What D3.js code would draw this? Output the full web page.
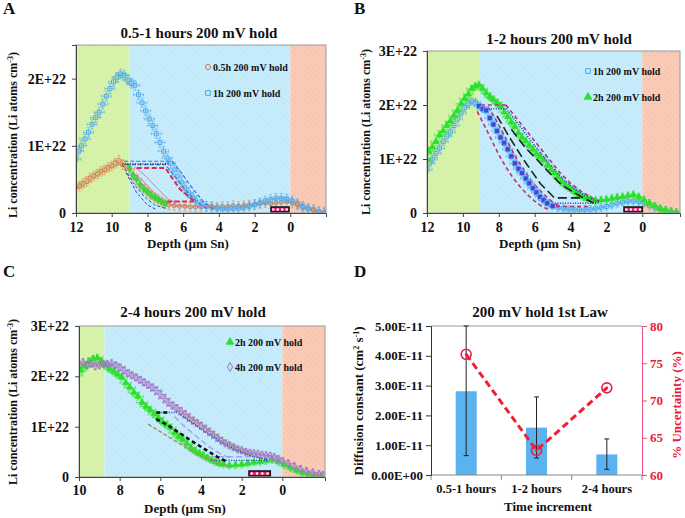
<!DOCTYPE html>
<html><head><meta charset="utf-8">
<script src="https://cdn.jsdelivr.net/npm/d3@7"></script>
<style>
body{margin:0;background:#fff;}
svg text{font-family:"Liberation Serif","Times New Roman",serif;font-weight:bold;fill:#111;}
</style></head><body>
<svg id="c" width="685" height="518"></svg>
<script>
// ---------------- DATA (depth in µm Sn, concentration in 1E+22 Li atoms cm^-3) ----------------
const halfHour = [[12.0,0.38],[11.8,0.40],[11.6,0.44],[11.4,0.47],[11.2,0.52],[11.0,0.55],[10.8,0.58],[10.6,0.62],[10.4,0.64],[10.2,0.68],[10.0,0.70],[9.8,0.74],[9.6,0.78],[9.4,0.72],[9.2,0.70],[9.0,0.66],[8.8,0.56],[8.6,0.50],[8.4,0.42],[8.2,0.36],[8.0,0.32],[7.8,0.27],[7.6,0.23],[7.4,0.20],[7.2,0.17],[7.0,0.14],[6.8,0.12],[6.5,0.11],[6.2,0.10],[5.9,0.10],[5.6,0.09],[5.3,0.09],[5.0,0.09],[4.7,0.10],[4.4,0.10],[4.1,0.09],[3.8,0.10],[3.5,0.10],[3.2,0.11],[2.9,0.10],[2.6,0.11],[2.3,0.12],[2.0,0.13],[1.7,0.14],[1.4,0.15],[1.1,0.14],[0.8,0.15],[0.5,0.16],[0.2,0.17],[-0.1,0.15],[-0.4,0.12],[-0.7,0.08],[-1.0,0.06],[-1.3,0.04],[-1.6,0.02],[-1.9,0.01]];
const oneHour = [[12.0,0.80],[11.85,0.92],[11.7,1.0],[11.5,1.1],[11.3,1.2],[11.1,1.32],[10.9,1.42],[10.7,1.5],[10.5,1.62],[10.3,1.74],[10.1,1.85],[9.9,1.95],[9.7,2.02],[9.5,2.07],[9.3,2.05],[9.1,1.98],[8.9,1.93],[8.7,1.9],[8.5,1.76],[8.3,1.64],[8.1,1.52],[7.9,1.40],[7.7,1.30],[7.5,1.18],[7.3,1.05],[7.1,0.92],[6.9,0.82],[6.7,0.74],[6.5,0.64],[6.3,0.55],[6.1,0.46],[5.9,0.38],[5.7,0.30],[5.5,0.24],[5.3,0.18],[5.0,0.13],[4.7,0.10],[4.4,0.08],[4.1,0.07],[3.8,0.06],[3.5,0.06],[3.2,0.06],[2.9,0.07],[2.6,0.08],[2.3,0.10],[2.0,0.12],[1.7,0.15],[1.4,0.18],[1.1,0.20],[0.8,0.22],[0.5,0.22],[0.2,0.21],[-0.1,0.18],[-0.4,0.14],[-0.7,0.10],[-1.0,0.07],[-1.3,0.05],[-1.6,0.02],[-1.9,0.0]];
const twoHour = [[12.0,1.0],[11.9,1.14],[11.7,1.22],[11.5,1.32],[11.3,1.44],[11.1,1.52],[10.9,1.62],[10.7,1.70],[10.5,1.80],[10.3,1.90],[10.1,2.02],[9.9,2.12],[9.7,2.20],[9.5,2.30],[9.3,2.35],[9.1,2.37],[8.9,2.30],[8.7,2.22],[8.5,2.15],[8.3,2.10],[8.1,2.04],[7.9,1.98],[7.7,1.87],[7.5,1.78],[7.3,1.68],[7.1,1.60],[6.9,1.48],[6.7,1.40],[6.5,1.33],[6.3,1.25],[6.1,1.18],[5.9,1.10],[5.7,1.04],[5.5,0.98],[5.3,0.88],[5.1,0.80],[4.9,0.74],[4.7,0.66],[4.5,0.58],[4.3,0.52],[4.1,0.47],[3.9,0.43],[3.7,0.38],[3.5,0.34],[3.3,0.30],[3.1,0.27],[2.9,0.25],[2.6,0.23],[2.3,0.24],[2.0,0.25],[1.7,0.27],[1.4,0.29],[1.1,0.30],[0.8,0.32],[0.5,0.34],[0.2,0.30],[-0.1,0.24],[-0.4,0.18],[-0.7,0.13],[-1.0,0.08],[-1.3,0.05],[-1.6,0.03],[-1.9,0.01]];
const fourHour = [[10.0,2.25],[9.8,2.28],[9.6,2.22],[9.4,2.25],[9.2,2.20],[9.0,2.22],[8.8,2.25],[8.6,2.24],[8.4,2.26],[8.2,2.22],[8.0,2.18],[7.8,2.12],[7.6,2.06],[7.4,2.02],[7.2,1.98],[7.0,1.93],[6.8,1.88],[6.6,1.83],[6.4,1.78],[6.2,1.72],[6.0,1.64],[5.8,1.56],[5.6,1.48],[5.4,1.42],[5.2,1.37],[5.0,1.31],[4.8,1.25],[4.6,1.18],[4.4,1.12],[4.2,1.07],[4.0,1.02],[3.8,0.96],[3.6,0.90],[3.4,0.84],[3.2,0.78],[3.0,0.72],[2.8,0.67],[2.6,0.63],[2.4,0.59],[2.2,0.55],[2.0,0.53],[1.8,0.50],[1.6,0.48],[1.4,0.47],[1.2,0.46],[1.0,0.44],[0.8,0.43],[0.6,0.42],[0.4,0.40],[0.2,0.36],[0.0,0.32],[-0.3,0.27],[-0.6,0.21],[-0.9,0.16],[-1.2,0.12],[-1.5,0.09],[-1.8,0.06],[-2.0,0.04]];
const errDepth = 0.28, errConc = 0.07;

// fit lines, panel A
const fitA = {
  blueDash1: [[9.3,0.77],[6.6,0.77],[6.0,0.56],[5.4,0.34],[4.8,0.15],[4.3,0.06]],
  blueDash2: [[9.2,0.72],[7.0,0.72],[6.4,0.52],[5.8,0.32],[5.2,0.16],[4.7,0.07]],
  blackDot: [[9.4,0.73],[6.8,0.73]],
  redDash1: [[8.6,0.67],[7.0,0.67],[6.2,0.36],[5.4,0.18]],
  redDash2: [[6.9,0.17],[5.4,0.17]],
  pink1: [[9.0,0.62],[8.4,0.52],[7.8,0.35],[7.2,0.20],[6.6,0.12],[4.5,0.10]],
  pink2: [[8.7,0.68],[8.1,0.55],[7.5,0.38],[6.9,0.22],[6.4,0.14]],
  navy1: [[9.4,0.72],[8.8,0.45],[8.2,0.25],[7.6,0.12],[7.0,0.07]],
  navy2: [[9.2,0.60],[8.6,0.30],[8.0,0.12],[7.5,0.05]]
};
// fit lines, panel B
const fitB = {
  magTop: [[9.0,2.0],[7.6,2.0]],
  magGreen: [[7.6,2.0],[7.0,1.75],[6.4,1.5],[5.8,1.25],[5.2,1.0],[4.6,0.75],[4.0,0.55],[3.4,0.40],[2.8,0.28],[2.4,0.22]],
  magBlueOuter: [[9.2,1.88],[8.8,1.62],[8.4,1.35],[8.0,1.08],[7.6,0.85],[7.2,0.65],[6.8,0.48],[6.4,0.34],[6.0,0.22],[5.6,0.12],[5.2,0.06]],
  magBlueInner: [[8.6,1.97],[8.2,1.75],[7.8,1.5],[7.4,1.25],[7.0,1.0],[6.6,0.8],[6.2,0.6],[5.8,0.45],[5.4,0.32],[5.0,0.2],[4.6,0.12]],
  magBottom: [[5.2,0.12],[3.0,0.12]],
  black1: [[8.1,1.8],[7.4,1.4],[6.6,0.98],[5.7,0.55],[4.9,0.28],[3.4,0.28]],
  black2: [[7.3,1.55],[6.5,1.2],[5.9,1.0],[5.2,0.75],[4.5,0.52],[3.5,0.32],[2.7,0.18]],
  blueDot1: [[9.0,1.93],[7.6,1.93],[6.8,1.6],[6.0,1.25],[5.2,0.92],[4.4,0.62],[3.6,0.40],[2.8,0.25],[2.4,0.20]],
  blueDot2: [[5.0,0.18],[2.4,0.18]]
};
// fit lines, panel C
const fitC = {
  blueDot1: [[6.2,1.28],[5.2,1.28],[4.5,1.1],[3.8,0.9],[3.0,0.7],[2.2,0.52],[1.4,0.40],[0.7,0.34]],
  blueDot2: [[3.5,0.33],[0.7,0.33]],
  blackThick1: [[6.2,1.15],[5.6,1.02],[5.0,0.86],[4.4,0.70],[3.8,0.55],[3.2,0.40],[2.7,0.30]],
  blackThick2: [[6.2,1.28],[5.6,1.28]],
  tan1: [[5.2,1.33],[4.6,1.2],[4.0,1.03],[3.4,0.86],[2.8,0.70],[2.2,0.56],[1.6,0.45],[1.0,0.38]],
  tan2: [[6.6,1.05],[6.0,0.9],[5.4,0.75],[4.8,0.60],[4.2,0.46],[3.6,0.35],[3.0,0.27],[2.6,0.22]],
  lav1: [[5.3,1.2],[4.8,1.0],[4.2,0.8],[3.6,0.6],[3.0,0.45],[2.6,0.38]],
  lav2: [[3.6,0.40],[1.5,0.40]]
};
// depth ranges of highlighted (fitted) points
const fitRangeA05 = [7.0, 9.0];
const fitRangeB1h = [5.0, 9.2];
// marker boxes (depth from, depth to)
const boxA = [1.08, 0.07], boxB = [1.02, 0.0], boxC = [1.64, 0.59];

// panel D
const categories = ["0.5-1 hours","1-2 hours","2-4 hours"];
const diffusion = [2.81e-11, 1.59e-11, 0.69e-11];
const diffLow = [0.65e-11, 0.57e-11, 0.19e-11];
const diffHigh = [5.0e-11, 2.62e-11, 1.21e-11];
const uncertainty = [76.2, 63.3, 71.7];
const leftTicksD = [0, 1e-11, 2e-11, 3e-11, 4e-11, 5e-11];
const rightTicksD = [60, 65, 70, 75, 80];

// ---------------- DRAWING ----------------
const svg = d3.select('#c');
const defs = svg.append('defs');
function pattern(id, base, dot){
  const p = defs.append('pattern').attr('id', id).attr('width', 6).attr('height', 6).attr('patternUnits', 'userSpaceOnUse');
  p.append('rect').attr('width', 6).attr('height', 6).attr('fill', base);
  p.append('circle').attr('cx', 1.5).attr('cy', 1.5).attr('r', 0.6).attr('fill', dot);
  p.append('circle').attr('cx', 4.5).attr('cy', 4.5).attr('r', 0.6).attr('fill', dot);
}
pattern('pg', '#d7f3ab', '#c8e89a');
pattern('pb', '#c6ecfb', '#b4e0f2');
pattern('ps', '#f9cab6', '#eeb8a2');

const styles = {
  h05: {symbol: d3.symbolCircle, size: 14, stroke: '#c47a50', fill: 'none', err: '#e8945c'},
  h1:  {symbol: d3.symbolSquare, size: 16, stroke: '#4aa6e6', fill: 'none', err: '#58aeee'},
  h2:  {symbol: d3.symbolTriangle, size: 18, stroke: '#2ee02e', fill: '#2ee02e', err: '#44e644'},
  h4:  {symbol: d3.symbolDiamond, size: 17, stroke: '#a070c4', fill: 'none', err: '#a878c8'}
};
const lineStyles = {
  blueDash: {c:'#3b74dc', w:1.2, d:'4,2'},
  blackDot: {c:'#111', w:1.3, d:'1,1.5'},
  redDash: {c:'#e8284a', w:2, d:'5,2.5'},
  pink: {c:'#e07aa8', w:1, d:null},
  navy: {c:'#2848b0', w:1, d:'3,2'},
  mag: {c:'#b8307a', w:1.6, d:'4,3'},
  blackLong: {c:'#222', w:1.6, d:'9,4'},
  blueDot: {c:'#1e3cc8', w:1.4, d:'1,1.5'},
  blackThick: {c:'#111', w:2.6, d:'4,3'},
  tan: {c:'#a8925a', w:1.5, d:'4,2'},
  lav: {c:'#9ea6e8', w:1.5, d:'6,3'}
};

function drawSeries(g, x, y, data, st){
  const eb = d3.path();
  data.forEach(([d,v]) => {
    const cx = x(d), cy = y(v);
    const xa = x(d + errDepth), xb = x(d - errDepth), ya = y(v + errConc), yb = y(v - errConc);
    eb.moveTo(xa, cy); eb.lineTo(xb, cy);
    eb.moveTo(cx, ya); eb.lineTo(cx, yb);
    eb.moveTo(xa, cy-1.5); eb.lineTo(xa, cy+1.5);
    eb.moveTo(xb, cy-1.5); eb.lineTo(xb, cy+1.5);
    eb.moveTo(cx-1.5, ya); eb.lineTo(cx+1.5, ya);
    eb.moveTo(cx-1.5, yb); eb.lineTo(cx+1.5, yb);
  });
  g.append('path').attr('d', eb.toString()).attr('stroke', st.err).attr('stroke-width', 0.9).attr('fill', 'none').attr('opacity', 0.75);
  const sym = d3.symbol().type(st.symbol).size(st.size);
  g.selectAll(null).data(data).enter().append('path')
    .attr('d', sym).attr('transform', p => `translate(${x(p[0])},${y(p[1])})`)
    .attr('fill', st.fill).attr('stroke', st.stroke).attr('stroke-width', 0.9);
}
function drawLine(g, x, y, pts, ls){
  const line = d3.line().x(p => x(p[0])).y(p => y(p[1]));
  const p = g.append('path').attr('d', line(pts)).attr('fill', 'none').attr('stroke', ls.c).attr('stroke-width', ls.w);
  if (ls.d) p.attr('stroke-dasharray', ls.d);
}
function drawBox(g, x, y, b){
  const x0 = x(b[0]), x1 = x(b[1]), y1 = y(0) - 1, y0 = y1 - 5;
  g.append('rect').attr('x', x0).attr('y', y0).attr('width', x1 - x0).attr('height', 5)
    .attr('fill', '#d6246c').attr('stroke', '#111').attr('stroke-width', 1.5);
  const n = Math.max(3, Math.round((x1 - x0) / 5));
  for (let i = 0; i < n; i++) {
    g.append('circle').attr('cx', x0 + (i + 0.5) * (x1 - x0) / n).attr('cy', y0 + 2.5).attr('r', 1.2).attr('fill', '#fff');
  }
}

const panels = [
  {id:'A', letterPos:[3,14], left:76, right:326, top:45, bottom:213, xDomain:[12,-2], yDomain:[0,2.5], yTicks:[0,1,2], xTicks:[12,10,8,6,4,2,0],
   greenEdge:9.0, title:'0.5-1 hours 200 mV hold', titlePos:[199,38], xLabelPos:[188,247.5], yLabelPos:[17,135], xPad:5,
   series:[[halfHour,'h05'],[oneHour,'h1']],
   lines:[['blueDash1','blueDash'],['blueDash2','blueDash'],['blackDot','blackDot'],['pink1','pink'],['pink2','pink'],['navy1','navy'],['navy2','navy'],['redDash1','redDash'],['redDash2','redDash']], fits:fitA,
   highlight:{data:halfHour, range:fitRangeA05, symbol:d3.symbolDiamond, size:18, fill:'#3cd63c', stroke:'#3cd63c'},
   box:boxA,
   legend:[{x:208,y:67,st:'h05',text:'0.5h 200 mV hold'},{x:208,y:93,st:'h1',text:'1h 200 mV hold'}]},
  {id:'B', letterPos:[354,14], left:427, right:680, top:51, bottom:213, xDomain:[12,-2.1], yDomain:[0,3], yTicks:[0,1,2,3], xTicks:[12,10,8,6,4,2,0],
   greenEdge:9.05, title:'1-2 hours 200 mV hold', titlePos:[559,44], xLabelPos:[540,247.5], yLabelPos:[370,132], xPad:5,
   series:[[oneHour,'h1'],[twoHour,'h2']],
   lines:[['magTop','mag'],['magGreen','mag'],['magBlueOuter','mag'],['magBlueInner','mag'],['magBottom','mag'],['black1','blackLong'],['black2','blackLong'],['blueDot1','blueDot'],['blueDot2','blueDot']], fits:fitB,
   highlight:{data:oneHour, range:fitRangeB1h, symbol:d3.symbolSquare, size:26, fill:'#4444d8', stroke:'#6ab8f0'},
   box:boxB,
   legend:[{x:588,y:71,st:'h1',text:'1h 200 mV hold'},{x:588,y:97,st:'h2',text:'2h 200 mV hold'}]},
  {id:'C', letterPos:[3,277], left:79, right:325, top:326, bottom:477, xDomain:[10,-2.1], yDomain:[0,3], yTicks:[0,1,2,3], xTicks:[10,8,6,4,2,0],
   greenEdge:8.75, title:'2-4 hours 200 mV hold', titlePos:[193,317], xLabelPos:[185,512.5], yLabelPos:[17,402], xPad:4,
   series:[[twoHour,'h2'],[fourHour,'h4']],
   lines:[['tan1','tan'],['tan2','tan'],['lav1','lav'],['lav2','lav'],['blueDot1','blueDot'],['blueDot2','blueDot'],['blackThick1','blackThick'],['blackThick2','blackThick']], fits:fitC,
   highlight:null,
   box:boxC,
   legend:[{x:230,y:342,st:'h2',text:'2h 200 mV hold'},{x:230,y:367,st:'h4',text:'4h 200 mV hold'}]}
];

panels.forEach(cfg => {
  const g = svg.append('g');
  const x = d3.scaleLinear().domain(cfg.xDomain).range([cfg.left, cfg.right]);
  const y = d3.scaleLinear().domain(cfg.yDomain).range([cfg.bottom, cfg.top]);
  defs.append('clipPath').attr('id', 'clip' + cfg.id).append('rect')
    .attr('x', cfg.left).attr('y', cfg.top).attr('width', cfg.right - cfg.left).attr('height', cfg.bottom - cfg.top);
  const pg = g.append('g').attr('clip-path', `url(#clip${cfg.id})`);
  const regs = [[cfg.xDomain[0], cfg.greenEdge, 'url(#pg)'], [cfg.greenEdge, 0, 'url(#pb)'], [0, cfg.xDomain[1], 'url(#ps)']];
  regs.forEach(r => pg.append('rect').attr('x', x(r[0])).attr('width', x(r[1]) - x(r[0]))
    .attr('y', cfg.top).attr('height', cfg.bottom - cfg.top).attr('fill', r[2]));
  cfg.series.forEach(s => drawSeries(pg, x, y, s[0], styles[s[1]]));
  cfg.lines.forEach(l => drawLine(pg, x, y, cfg.fits[l[0]], lineStyles[l[1]]));
  if (cfg.highlight) {
    const h = cfg.highlight;
    const pts = h.data.filter(p => p[0] >= h.range[0] && p[0] <= h.range[1]);
    pg.selectAll(null).data(pts).enter().append('path')
      .attr('d', d3.symbol().type(h.symbol).size(h.size))
      .attr('transform', p => `translate(${x(p[0])},${y(p[1])})`)
      .attr('fill', h.fill).attr('stroke', h.stroke).attr('stroke-width', 0.8);
  }
  drawBox(pg, x, y, cfg.box);
  // frame
  g.append('rect').attr('x', cfg.left).attr('y', cfg.top).attr('width', cfg.right - cfg.left).attr('height', cfg.bottom - cfg.top)
    .attr('fill', 'none').attr('stroke', '#9a9a9a').attr('stroke-width', 1);
  // axes
  const xa = g.append('g').attr('transform', `translate(0,${cfg.bottom})`)
    .call(d3.axisBottom(x).tickValues(cfg.xTicks).tickSize(4).tickPadding(cfg.xPad).tickFormat(d3.format('d')));
  xa.select('.domain').attr('stroke', '#444');
  xa.selectAll('.tick line').attr('stroke', '#444');
  xa.selectAll('text').style('font-size', '14px');
  const ya = g.append('g').attr('transform', `translate(${cfg.left},0)`)
    .call(d3.axisLeft(y).tickValues(cfg.yTicks).tickSize(4).tickPadding(6).tickFormat(v => v === 0 ? '0' : v + 'E+22'));
  ya.select('.domain').attr('stroke', '#444');
  ya.selectAll('.tick line').attr('stroke', '#444');
  ya.selectAll('text').style('font-size', '14px');
  // titles
  g.append('text').attr('x', cfg.titlePos[0]).attr('y', cfg.titlePos[1]).attr('text-anchor', 'middle').style('font-size', '15px').text(cfg.title);
  g.append('text').attr('x', cfg.xLabelPos[0]).attr('y', cfg.xLabelPos[1]).attr('text-anchor', 'middle').style('font-size', '13px').text('Depth (µm Sn)');
  const yl = g.append('text').attr('transform', `translate(${cfg.yLabelPos[0]},${cfg.yLabelPos[1]}) rotate(-90)`)
    .attr('text-anchor', 'middle').style('font-size', '12px');
  yl.append('tspan').text('Li concentration (Li atoms cm');
  yl.append('tspan').attr('dy', -4).style('font-size', '8px').text('-3');
  yl.append('tspan').attr('dy', 4).text(')');
  g.append('text').attr('x', cfg.letterPos[0]).attr('y', cfg.letterPos[1]).style('font-size', '17px').text(cfg.id);
  // legend
  cfg.legend.forEach(l => {
    const st = styles[l.st];
    g.append('path').attr('d', d3.symbol().type(st.symbol).size(st.size + 6)).attr('transform', `translate(${l.x},${l.y})`)
      .attr('fill', st.fill).attr('stroke', st.stroke).attr('stroke-width', 1);
    g.append('text').attr('x', l.x + 5).attr('y', l.y + 3.5).style('font-size', '10px').text(l.text);
  });
});

// ---------------- PANEL D ----------------
(function(){
  const L = 431, R = 642, T = 326, B = 475;
  const g = svg.append('g');
  const xb = d3.scaleBand().domain(categories).range([L, R]);
  const yl = d3.scaleLinear().domain([0, 5e-11]).range([B, T]);
  const yr = d3.scaleLinear().domain([60, 80]).range([B, T]);
  const barW = 21;
  g.selectAll(null).data(categories).enter().append('rect')
    .attr('x', c => xb(c) + xb.bandwidth() / 2 - barW / 2).attr('width', barW)
    .attr('y', (c, i) => yl(diffusion[i])).attr('height', (c, i) => B - yl(diffusion[i]))
    .attr('fill', '#5ab2ee');
  g.append('line').attr('x1', L).attr('x2', R).attr('y1', T).attr('y2', T).attr('stroke', '#9a9a9a');
  categories.forEach((c, i) => {
    const cx = xb(c) + xb.bandwidth() / 2;
    g.append('line').attr('x1', cx).attr('x2', cx).attr('y1', yl(diffLow[i])).attr('y2', yl(diffHigh[i])).attr('stroke', '#222').attr('stroke-width', 1);
    [diffLow[i], diffHigh[i]].forEach(v => g.append('line').attr('x1', cx - 2.5).attr('x2', cx + 2.5).attr('y1', yl(v)).attr('y2', yl(v)).attr('stroke', '#222').attr('stroke-width', 1));
  });
  const line = d3.line().x((v, i) => xb(categories[i]) + xb.bandwidth() / 2).y(v => yr(v));
  g.append('path').attr('d', line(uncertainty)).attr('fill', 'none').attr('stroke', '#f0202e').attr('stroke-width', 3).attr('stroke-dasharray', '7,4');
  uncertainty.forEach((v, i) => {
    const cx = xb(categories[i]) + xb.bandwidth() / 2, cy = yr(v);
    g.append('circle').attr('cx', cx).attr('cy', cy).attr('r', 5).attr('fill', 'none').attr('stroke', '#e8204a').attr('stroke-width', 1.6);
    g.append('circle').attr('cx', cx).attr('cy', cy).attr('r', 1.3).attr('fill', '#e8204a');
  });
  g.append('line').attr('x1', L).attr('x2', R).attr('y1', B).attr('y2', B).attr('stroke', '#888');
  const edges = categories.map(c => xb(c)).concat([R]);
  edges.forEach(e => g.append('line').attr('x1', e).attr('x2', e).attr('y1', B).attr('y2', B + 5).attr('stroke', '#888'));
  categories.forEach(c => g.append('text').attr('x', xb(c) + xb.bandwidth() / 2).attr('y', B + 18).attr('text-anchor', 'middle').style('font-size', '12.5px').text(c));
  const la = g.append('g').attr('transform', `translate(${L},0)`)
    .call(d3.axisLeft(yl).tickValues(leftTicksD).tickSize(5).tickPadding(3)
      .tickFormat(v => v === 0 ? '0.00E+00' : d3.format('.2e')(v).toUpperCase()));
  la.select('.domain').attr('stroke', '#333');
  la.selectAll('.tick line').attr('stroke', '#333');
  la.selectAll('text').style('font-size', '13px');
  const ra = g.append('g').attr('transform', `translate(${R},0)`)
    .call(d3.axisRight(yr).tickValues(rightTicksD).tickSize(5).tickPadding(3));
  ra.select('.domain').attr('stroke', '#e8507a');
  ra.selectAll('.tick line').attr('stroke', '#e8507a');
  ra.selectAll('text').style('font-size', '13px').style('fill', '#e8203c');
  g.append('text').attr('x', 540).attr('y', 317).attr('text-anchor', 'middle').style('font-size', '15px').text('200 mV hold 1st Law');
  g.append('text').attr('x', 548).attr('y', 511).attr('text-anchor', 'middle').style('font-size', '13px').text('Time increment');
  const ylab = g.append('text').attr('transform', 'translate(363,401) rotate(-90)').attr('text-anchor', 'middle').style('font-size', '13px');
  ylab.append('tspan').text('Diffusion constant (cm');
  ylab.append('tspan').attr('dy', -4).style('font-size', '8px').text('2');
  ylab.append('tspan').attr('dy', 4).text(' s');
  ylab.append('tspan').attr('dy', -4).style('font-size', '8px').text('-1');
  ylab.append('tspan').attr('dy', 4).text(')');
  g.append('text').attr('transform', 'translate(681,405) rotate(-90)').attr('text-anchor', 'middle').style('font-size', '13px').style('fill', '#e8203c').text('% Uncertainty (%)');
  g.append('text').attr('x', 354).attr('y', 277).style('font-size', '17px').text('D');
})();
</script>
</body></html>
